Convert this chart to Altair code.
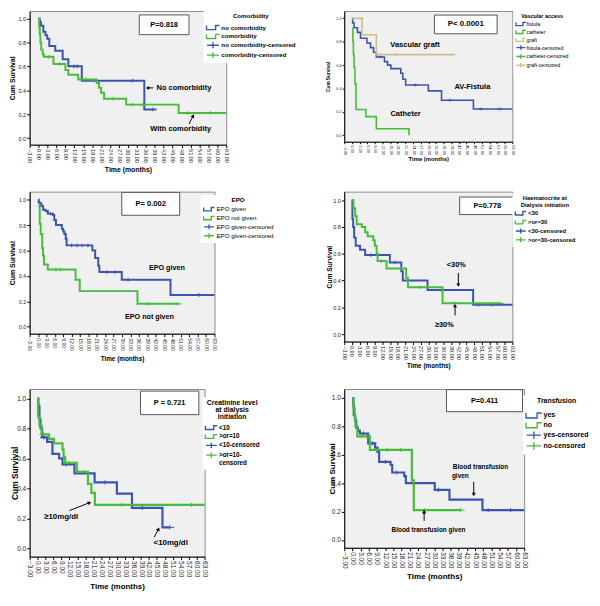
import math
import altair as alt
import pandas as pd

FONT = "Liberation Sans"
BLUE = "#3B54B0"
GREEN = "#45BD3A"
TAN = "#CCBE86"
BG = "#F0F0F0"
FRAME = "#8A8A8A"

X_TICKS = list(range(-3, 64, 3))
Y_TICKS = [0.0, 0.2, 0.4, 0.6, 0.8, 1.0]
X_DOM = [-3, 63]
Y_DOM = [-0.055, 1.063]

STEP = "M-2.2,-0.7V0.7H0.9V-0.7H2.2"
CROSS = "M-2,0H2M0,-1V1"

# ---------------- Panel 1: comorbidity ----------------
p1_title = "Comorbidity"
p1_series = ["no comorbidity", "comorbidity"]
p1_censored = ["no comorbidity-censored", "comorbidity-censored"]
p1_a_t = [0, 0.4, 0.8, 1.6, 2.3, 2.9, 3.6, 5.6, 8.1, 10.0, 14.5, 35.5, 39.5]
p1_a_s = [1.0, 0.97, 0.94, 0.89, 0.86, 0.83, 0.77, 0.73, 0.66, 0.60, 0.48, 0.24, 0.24]
p1_a_c = [11.9, 13.0, 31.6, 38.3]
p1_b_t = [0, 0.2, 0.4, 0.6, 0.9, 1.4, 1.8, 5.0, 9.0, 10.0, 13.3, 19.5, 20.3, 21.0, 22.0, 29.4, 47.0, 63.0]
p1_b_s = [1.0, 0.93, 0.87, 0.80, 0.74, 0.70, 0.68, 0.62, 0.57, 0.53, 0.49, 0.46, 0.42, 0.38, 0.33, 0.28, 0.21, 0.21]
p1_b_c = [3.5, 7.0, 16.0, 25.0, 31.6, 35.0, 50.0, 57.7]
p1_p = "P=0.818"
p1_box = [33.8, 50.5, 0.865, 1.03]
p1_notes = ["No comorbidity", "With comorbidity"]
p1_note_t = [48.8, 47.7]
p1_note_s = [0.42, 0.077]
p1_arr_t = [38.5, 50.5]
p1_arr_s = [0.42, 0.118]
p1_arr_t2 = [36.6, 51.9]
p1_arr_s2 = [0.42, 0.187]

# ---------------- Panel 2: vascular access ----------------
p2_title = "Vascular access"
p2_series = ["fistula", "catheter", "graft"]
p2_censored = ["fistula-censored", "catheter-censored", "graft-censored"]
p2_a_t = [0, 0.3, 0.85, 2.2, 3.4, 5.9, 7.3, 8.5, 9.6, 12.8, 14.0, 15.3, 19.2, 20.0, 21.1, 30.0, 35.2, 47.7, 63.0]
p2_a_s = [1.0, 0.96, 0.92, 0.88, 0.83, 0.79, 0.75, 0.71, 0.67, 0.63, 0.60, 0.57, 0.53, 0.48, 0.43, 0.38, 0.30, 0.225, 0.225]
p2_a_c = [11.3, 24.9, 38.4, 50.6, 58.0]
p2_b_t = [0.2, 0.4, 0.6, 0.85, 1.2, 1.6, 5.5, 9.6, 22.4]
p2_b_s = [0.92, 0.80, 0.69, 0.58, 0.44, 0.22, 0.16, 0.056, 0.0]
p2_b_c = []
p2_c_t = [0, 4.0, 9.6, 39.7]
p2_c_s = [1.0, 0.86, 0.69, 0.69]
p2_c_c = [17.3, 39.7]
p2_p = "P< 0.0001"
p2_box = [32.4, 57.0, 0.868, 1.028]
p2_notes = ["Vascular graft", "AV-Fistula", "Catheter"]
p2_note_t = [24.8, 47.3, 21.1]
p2_note_s = [0.775, 0.414, 0.183]

# ---------------- Panel 3: EPO ----------------
p3_title = "EPO"
p3_series = ["EPO given", "EPO not given"]
p3_censored = ["EPO given-censored", "EPO given-censored "]
p3_a_t = [0, 0.26, 0.6, 1.2, 1.8, 2.7, 3.5, 5.3, 5.8, 6.4, 8.5, 9.0, 9.4, 9.9, 10.2, 19.4, 20.4, 21.5, 21.9, 29.9, 47.3, 63.0]
p3_a_s = [1.0, 0.98, 0.97, 0.95, 0.92, 0.91, 0.89, 0.88, 0.84, 0.80, 0.77, 0.75, 0.73, 0.69, 0.64, 0.60, 0.54, 0.48, 0.43, 0.37, 0.25, 0.25]
p3_a_c = [4.4, 12.0, 14.0, 15.7, 17.8, 24.5, 27.5, 32.2, 57.5]
p3_b_t = [0.1, 0.6, 0.95, 1.5, 1.8, 2.1, 3.5, 13.4, 14.9, 35.5, 50.0]
p3_b_s = [0.95, 0.81, 0.73, 0.62, 0.56, 0.49, 0.45, 0.37, 0.28, 0.18, 0.18]
p3_b_c = [6.4, 8.0, 39.5, 50.0]
p3_p = "P= 0.002"
p3_box = [29.9, 50.6, 0.877, 1.057]
p3_notes = ["EPO given", "EPO not given"]
p3_note_t = [46.0, 39.8]
p3_note_s = [0.465, 0.077]

# ---------------- Panel 4: haematocrite ----------------
p4_title = ["Haematocrite at", "Dialysis initiation"]
p4_series = ["<30", ">or=30"]
p4_censored = ["<30-censored", ">or=30-censored"]
p4_a_t = [0, 0.2, 0.5, 0.9, 1.5, 3.2, 5.2, 14.9, 19.4, 20.0, 29.7, 47.6, 63.0]
p4_a_s = [1.0, 0.86, 0.80, 0.72, 0.66, 0.63, 0.59, 0.535, 0.47, 0.40, 0.33, 0.22, 0.22]
p4_a_c = [7.4, 17.0, 49.8, 55.3]
p4_b_t = [0, 0.6, 1.3, 1.9, 3.9, 5.2, 6.2, 8.4, 9.0, 9.7, 10.1, 13.6, 21.3, 22.0, 35.6, 58.2]
p4_b_s = [1.0, 0.94, 0.88, 0.82, 0.80, 0.76, 0.73, 0.70, 0.66, 0.60, 0.545, 0.49, 0.42, 0.35, 0.23, 0.23]
p4_b_c = [11.5, 26.5, 40.0, 58.2]
p4_p = "P=0.778"
p4_box = [42.3, 64.0, 0.892, 1.023]
p4_notes = ["<30%", "\u226530%"]
p4_note_t = [41.0, 36.3]
p4_note_s = [0.516, 0.068]
p4_arr_t = [41.8, 40.5]
p4_arr_s = [0.456, 0.14]
p4_arr_t2 = [41.8, 40.5]
p4_arr_s2 = [0.366, 0.213]

# ---------------- Panel 5: creatinine ----------------
p5_title = ["Creatinine level", "at dialysis", "initiation"]
p5_series = ["<10", ">or=10"]
p5_censored = ["<10-censored", ">or=10-censored"]
p5_a_t = [0, 0.3, 0.7, 1.1, 1.7, 3.6, 5.6, 8.1, 9.4, 13.9, 21.5, 29.9, 35.6, 47.1, 49.9]
p5_a_s = [1.0, 0.95, 0.86, 0.80, 0.74, 0.71, 0.63, 0.60, 0.56, 0.50, 0.44, 0.365, 0.27, 0.14, 0.14]
p5_a_c = [2.5, 10.8, 25.4, 39.5, 49.9]
p5_b_t = [0, 0.2, 0.7, 1.5, 4.3, 6.2, 9.4, 9.8, 10.4, 14.8, 19.0, 20.3, 21.6, 63.0]
p5_b_s = [1.0, 0.88, 0.82, 0.76, 0.73, 0.70, 0.66, 0.61, 0.57, 0.51, 0.43, 0.37, 0.29, 0.29]
p5_b_c = [2.2, 11.8, 17.7, 31.8, 58.0]
p5_p = "P = 0.721"
p5_box = [38.8, 60.8, 0.892, 1.049]
p5_notes = ["\u226510mg/dl", "<10mg/dl"]
p5_note_t = [8.9, 50.2]
p5_note_s = [0.21, 0.039]
p5_arr_t = [12.0, 44.0]
p5_arr_s = [0.252, 0.075]
p5_arr_t2 = [19.6, 45.6]
p5_arr_s2 = [0.305, 0.129]

# ---------------- Panel 6: transfusion ----------------
p6_title = "Transfusion"
p6_series = ["yes", "no"]
p6_censored = ["yes-censored", "no-censored"]
p6_a_t = [0, 0.3, 0.5, 1.0, 1.4, 2.0, 2.7, 5.8, 8.3, 9.2, 9.8, 14.0, 14.6, 19.0, 19.6, 30.2, 35.6, 47.7, 63.0]
p6_a_s = [1.0, 0.95, 0.88, 0.84, 0.79, 0.77, 0.75, 0.68, 0.65, 0.62, 0.55, 0.53, 0.475, 0.45, 0.40, 0.353, 0.284, 0.21, 0.21]
p6_a_c = [4.0, 7.3, 12.1, 16.2, 31.6, 49.8, 58.0]
p6_b_t = [0, 0.4, 0.8, 1.1, 1.8, 6.4, 21.8, 22.5, 39.7]
p6_b_s = [1.0, 0.93, 0.86, 0.80, 0.73, 0.635, 0.42, 0.21, 0.21]
p6_b_c = [3.3, 5.2, 12.7, 17.7, 26.5, 39.7]
p6_p = "P=0.411"
p6_box = [34.5, 62.4, 0.903, 1.058]
p6_notes = ["Blood transfusion", "given", "Blood transfusion given"]
p6_note_t = [47.0, 39.6, 27.9]
p6_note_s = [0.515, 0.45, 0.072]
p6_arr_t = [44.5, 26.3]
p6_arr_s = [0.41, 0.134]
p6_arr_t2 = [44.5, 26.3]
p6_arr_s2 = [0.32, 0.2]


def surv_at(ts, ss, t):
    v = ss[0]
    for ti, si in zip(ts, ss):
        if ti <= t:
            v = si
    return v


def build_panel(c):
    W, H = c["W"], c["H"]
    rows = []
    for name, ts, ss in c["curves"]:
        for t, s in zip(ts, ss):
            rows.append({"t": t, "s": s, "g": name})
    lines_df = pd.DataFrame(rows)
    crow = []
    for name, ts, ss, cts in c["cens"]:
        for ct in cts:
            crow.append({"t": ct, "s": surv_at(ts, ss, ct), "g": name})
    cens_df = pd.DataFrame(crow)

    domain = c["series"] + c["censored"]
    n = len(c["series"])
    cscale = alt.Scale(domain=domain, range=c["colors"] + c["colors"])
    sscale = alt.Scale(domain=domain, range=[STEP] * n + [CROSS] * n)

    xaxis = alt.Axis(values=X_TICKS, format=".2f", labelAngle=90, labelAlign="left",
                     labelBaseline="middle", labelFont=FONT, labelFontSize=c["lab_fs"],
                     labelColor="#222", labelPadding=1, labelOverlap=False, labelFlush=False,
                     labelSeparation=0,
                     tickSize=c["tick"], tickColor="black", domainColor="black", grid=False,
                     title="Time (months)", titleFont=FONT, titleFontSize=c["xt_fs"],
                     titleFontWeight="bold", titleColor="black", titleY=c["xt_y"],
                     titleBaseline="middle")
    yaxis = alt.Axis(values=Y_TICKS, format=".1f", labelFont=FONT, labelFontSize=c["lab_fs"],
                     labelColor="#222", labelPadding=1, labelOverlap=False, labelFlush=False,
                     labelSeparation=0, tickSize=c["tick"], tickColor="black",
                     domainColor="black", grid=False, title="Cum Survival", titleFont=FONT,
                     titleFontSize=c["yt_fs"], titleFontWeight="bold", titleColor="black",
                     titleX=c["yt_x"], titleY=H / 2, titleBaseline="middle", titleAngle=270)
    xs = alt.Scale(domain=X_DOM, nice=False, zero=False)
    ys = alt.Scale(domain=Y_DOM, nice=False, zero=False)

    def X(f):
        return alt.X(f, scale=xs, axis=xaxis)

    def Y(f):
        return alt.Y(f, scale=ys, axis=yaxis)

    lg = c["leg"]
    lkw = dict(title=c["title"], orient="none", legendX=lg["x"], legendY=lg["y"],
               fillColor="white", padding=lg["pad"], titleFont=FONT, titleFontSize=lg["tfs"],
               titleFontWeight="bold", titleColor="black", titleAnchor="middle",
               titlePadding=lg["tp"], titleLineHeight=lg["tlh"], labelFont=FONT,
               labelFontSize=lg["lfs"], labelFontWeight=lg["lfw"], labelColor="black",
               symbolSize=lg["S"], symbolStrokeWidth=1.4, symbolOffset=lg["so"],
               labelOffset=lg["lo"], rowPadding=lg["rp"])
    if "expr" in lg:
        lkw["labelExpr"] = lg["expr"]
    leg = alt.Legend(**lkw)

    layers = []
    # censored marks first: their legend (merged colour + shape) is the panel legend
    layers.append(
        alt.Chart(cens_df).mark_point(filled=False, size=c["cs"], strokeWidth=1, opacity=1).encode(
            x=X("t:Q"), y=Y("s:Q"),
            color=alt.Color("g:N", scale=cscale, legend=leg),
            shape=alt.Shape("g:N", scale=sscale, legend=leg),
        )
    )
    layers.append(
        alt.Chart(lines_df).mark_line(interpolate="step-after", strokeWidth=c["sw"]).encode(
            x=X("t:Q"), y=Y("s:Q"),
            color=alt.Color("g:N", scale=cscale, legend=leg),
        )
    )
    b = c["box"]
    box_df = pd.DataFrame({"t": [b[0]], "t2": [b[1]], "s": [b[2]], "s2": [b[3]],
                           "tc": [(b[0] + b[1]) / 2], "sc": [(b[2] + b[3]) / 2], "label": [c["p"]]})
    layers.append(alt.Chart(box_df).mark_rect(fill="white", stroke="#555", strokeWidth=1).encode(
        x=X("t:Q"), x2="t2:Q", y=Y("s:Q"), y2="s2:Q"))
    layers.append(alt.Chart(box_df).mark_text(font=FONT, fontSize=c["p_fs"], fontWeight="bold",
                                              color="black", baseline="middle").encode(
        x=X("tc:Q"), y=Y("sc:Q"), text="label:N"))
    notes_df = pd.DataFrame({"t": c["note_t"], "s": c["note_s"], "label": c["notes"]})
    layers.append(alt.Chart(notes_df).mark_text(font=FONT, fontSize=c["ann_fs"], fontWeight="bold",
                                                color="black", baseline="middle").encode(
        x=X("t:Q"), y=Y("s:Q"), text="label:N"))
    if c.get("arr_t"):
        kx = W / (X_DOM[1] - X_DOM[0])
        ky = H / (Y_DOM[1] - Y_DOM[0])
        angs = []
        for t1, s1, t2, s2 in zip(c["arr_t"], c["arr_s"], c["arr_t2"], c["arr_s2"]):
            a = math.degrees(math.atan2((t2 - t1) * kx, (s2 - s1) * ky)) % 360
            angs.append(a)
        arr_df = pd.DataFrame({"t": c["arr_t"], "s": c["arr_s"], "t2": c["arr_t2"],
                               "s2": c["arr_s2"], "ang": angs})
        layers.append(alt.Chart(arr_df).mark_rule(color="black", strokeWidth=1).encode(
            x=X("t:Q"), y=Y("s:Q"), x2="t2:Q", y2="s2:Q"))
        layers.append(alt.Chart(arr_df).mark_point(shape="triangle-up", filled=True, color="black",
                                                   size=c["head"], opacity=1).encode(
            x=X("t2:Q"), y=Y("s2:Q"), angle=alt.Angle("ang:Q", scale=None)))

    return alt.layer(*layers).properties(
        width=W, height=H, view=alt.ViewBackground(fill=BG, stroke=FRAME, strokeWidth=1))


P1 = dict(W=200, H=136, sw=2, cs=14, lab_fs=5.6, tick=3, xt_fs=7, xt_y=25, yt_fs=7, yt_x=-17,
          p_fs=7.5, ann_fs=7.6, head=16,
          title=p1_title, series=p1_series, censored=p1_censored, colors=[BLUE, GREEN],
          curves=[(p1_series[0], p1_a_t, p1_a_s), (p1_series[1], p1_b_t, p1_b_s)],
          cens=[(p1_censored[0], p1_a_t, p1_a_s, p1_a_c), (p1_censored[1], p1_b_t, p1_b_s, p1_b_c)],
          p=p1_p, box=p1_box, notes=p1_notes, note_t=p1_note_t, note_s=p1_note_s,
          arr_t=p1_arr_t, arr_s=p1_arr_s, arr_t2=p1_arr_t2, arr_s2=p1_arr_s2,
          leg=dict(x=177, y=0, pad=2, tfs=6.2, tp=4.7, tlh=7, lfs=6.3, lfw="bold", S=36, so=3.5, lo=4.5, rp=-5.2))

P2 = dict(W=171, H=133, sw=1.6, cs=8, lab_fs=4.0, tick=2, xt_fs=6, xt_y=17, yt_fs=4.8, yt_x=-16,
          p_fs=8, ann_fs=7.6, head=14,
          title=p2_title, series=p2_series, censored=p2_censored, colors=[BLUE, GREEN, TAN],
          curves=[(p2_series[0], p2_a_t, p2_a_s), (p2_series[1], p2_b_t, p2_b_s),
                  (p2_series[2], p2_c_t, p2_c_s)],
          cens=[(p2_censored[0], p2_a_t, p2_a_s, p2_a_c), (p2_censored[1], p2_b_t, p2_b_s, p2_b_c),
                (p2_censored[2], p2_c_t, p2_c_s, p2_c_c)],
          p=p2_p, box=p2_box, notes=p2_notes, note_t=p2_note_t, note_s=p2_note_s,
          leg=dict(x=172, y=0, pad=3.25, tfs=5.5, tp=1.5, tlh=6, lfs=5.3, lfw="normal", S=21, so=1.45, lo=2.75, rp=-10.0))

P3 = dict(W=188, H=144.5, sw=2, cs=14, lab_fs=5.2, tick=3, xt_fs=6.5, xt_y=25, yt_fs=7, yt_x=-17.5,
          p_fs=7.7, ann_fs=7.3, head=16,
          title=p3_title, series=p3_series, censored=p3_censored, colors=[BLUE, GREEN],
          curves=[(p3_series[0], p3_a_t, p3_a_s), (p3_series[1], p3_b_t, p3_b_s)],
          cens=[(p3_censored[0], p3_a_t, p3_a_s, p3_a_c), (p3_censored[1], p3_b_t, p3_b_s, p3_b_c)],
          p=p3_p, box=p3_box, notes=p3_notes, note_t=p3_note_t, note_s=p3_note_s,
          leg=dict(x=174, y=3.35, pad=2, tfs=6.3, tp=2.7, tlh=7, lfs=6.3, lfw="normal", S=25, so=3, lo=4, rp=-4.8))

P4 = dict(W=171, H=152.5, sw=2, cs=14, lab_fs=5.6, tick=3, xt_fs=6.5, xt_y=24, yt_fs=6.8, yt_x=-15,
          p_fs=7.5, ann_fs=7.5, head=16,
          title=p4_title, series=p4_series, censored=p4_censored, colors=[BLUE, GREEN],
          curves=[(p4_series[0], p4_a_t, p4_a_s), (p4_series[1], p4_b_t, p4_b_s)],
          cens=[(p4_censored[0], p4_a_t, p4_a_s, p4_a_c), (p4_censored[1], p4_b_t, p4_b_s, p4_b_c)],
          p=p4_p, box=p4_box, notes=p4_notes, note_t=p4_note_t, note_s=p4_note_s,
          arr_t=p4_arr_t, arr_s=p4_arr_s, arr_t2=p4_arr_t2, arr_s2=p4_arr_s2,
          leg=dict(x=171, y=1.5, pad=2, tfs=6, tp=2, tlh=7, lfs=6, lfw="bold", S=25, so=3, lo=4, rp=-5.6))

P5 = dict(W=178, H=170.5, sw=2.2, cs=18, lab_fs=6.6, tick=3, xt_fs=8.1, xt_y=30, yt_fs=8.5, yt_x=-15.5,
          p_fs=7.5, ann_fs=8, head=18,
          title=p5_title, series=p5_series, censored=p5_censored, colors=[BLUE, GREEN],
          curves=[(p5_series[0], p5_a_t, p5_a_s), (p5_series[1], p5_b_t, p5_b_s)],
          cens=[(p5_censored[0], p5_a_t, p5_a_s, p5_a_c), (p5_censored[1], p5_b_t, p5_b_s, p5_b_c)],
          p=p5_p, box=p5_box, notes=p5_notes, note_t=p5_note_t, note_s=p5_note_s,
          arr_t=p5_arr_t, arr_s=p5_arr_s, arr_t2=p5_arr_t2, arr_s2=p5_arr_s2,
          leg=dict(x=176, y=8, pad=2, tfs=7, tp=3.8, tlh=7.5, lfs=6.4, lfw="bold", S=30, so=3.3, lo=4.3, rp=-5.3,
                   expr="datum.label == '>or=10-censored' ? ['>or=10-', 'censored'] : datum.label"))

P6 = dict(W=183, H=161.5, sw=2.2, cs=18, lab_fs=6.6, tick=3, xt_fs=8.2, xt_y=29, yt_fs=8.2, yt_x=-12,
          p_fs=7.5, ann_fs=6.6, head=18,
          title=p6_title, series=p6_series, censored=p6_censored, colors=[BLUE, GREEN],
          curves=[(p6_series[0], p6_a_t, p6_a_s), (p6_series[1], p6_b_t, p6_b_s)],
          cens=[(p6_censored[0], p6_a_t, p6_a_s, p6_a_c), (p6_censored[1], p6_b_t, p6_b_s, p6_b_c)],
          p=p6_p, box=p6_box, notes=p6_notes, note_t=p6_note_t, note_s=p6_note_s,
          arr_t=p6_arr_t, arr_s=p6_arr_s, arr_t2=p6_arr_t2, arr_s2=p6_arr_s2,
          leg=dict(x=182, y=6.5, pad=2, tfs=7, tp=6.9, tlh=7.5, lfs=7.1, lfw="bold", S=53, so=4.4, lo=5.3, rp=-3.3))

panels = [build_panel(p) for p in (P1, P2, P3, P4, P5, P6)]

chart = alt.concat(*panels, columns=2, spacing={"row": 47.75, "column": 120},
                   bounds="flush").resolve_scale(
    color="independent", shape="independent").properties(
    padding={"left": 0, "top": -3, "right": 0, "bottom": 0},
    background="white")

chart.save("out.html", embed_options={"renderer": "svg", "actions": False})
